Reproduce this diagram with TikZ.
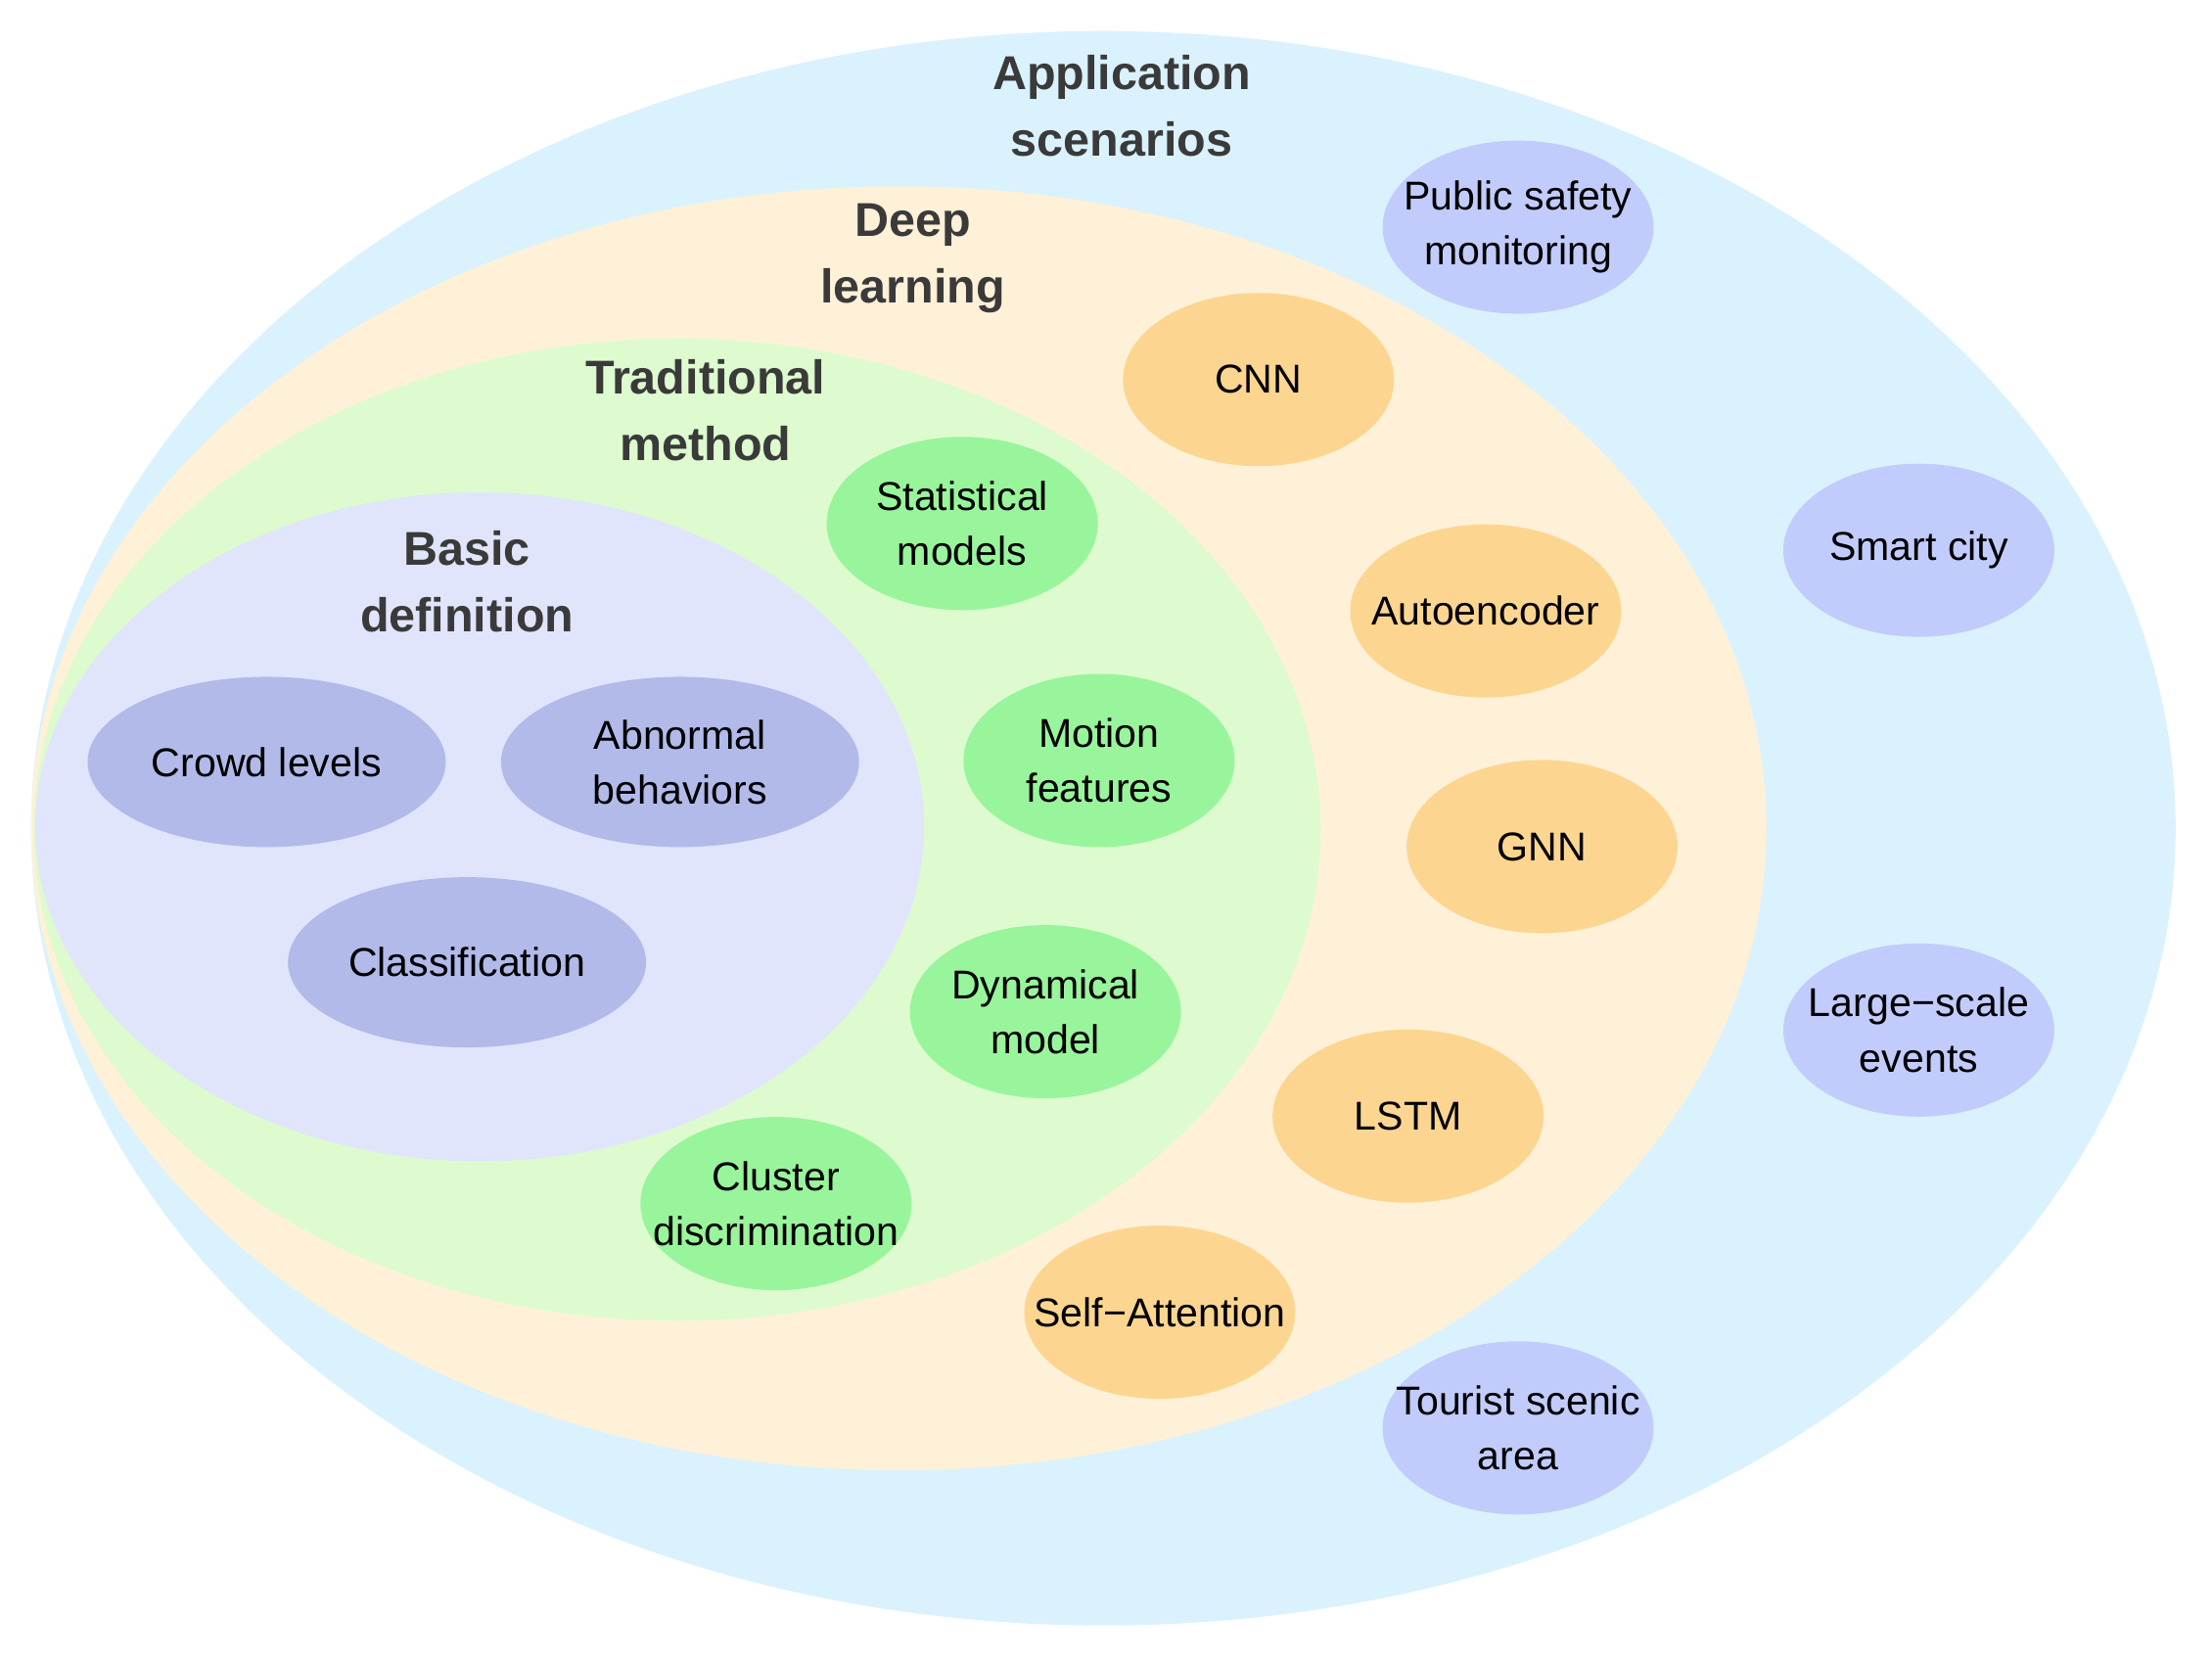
\documentclass[tikz,border=0pt]{standalone}
\usepackage{fontspec}
\setmainfont{Liberation Sans}
\usetikzlibrary{shapes.geometric}
\definecolor{appbg}{HTML}{DAF2FD}
\definecolor{dlbg}{HTML}{FFF1D8}
\definecolor{tmbg}{HTML}{DDFBCE}
\definecolor{bdbg}{HTML}{E0E5FC}
\definecolor{bditem}{HTML}{B2BAEA}
\definecolor{tmitem}{HTML}{98F59B}
\definecolor{dlitem}{HTML}{FCD690}
\definecolor{appitem}{HTML}{C2CCFC}
\definecolor{titlec}{HTML}{3A3A3A}
\tikzset{
  itemtext/.style={align=center, inner sep=0pt, font=\fontsize{11.7}{16}\selectfont, text=black},
  item/.style={ellipse, inner sep=0pt, minimum width=2.77cm, minimum height=1.77cm},
  wideitem/.style={item, minimum width=3.66cm, minimum height=1.74cm, fill=bditem},
  greenitem/.style={item, fill=tmitem},
  orangeitem/.style={item, fill=dlitem},
  blueitem/.style={item, fill=appitem},
  title/.style={align=center, font=\bfseries\fontsize{13.8}{19.3}\selectfont, text=titlec}
}
\newcommand{\itm}[4]{\node[#1, label={[itemtext]center:{#4}}] (#2) at (#3) {};}
\begin{document}
\begin{tikzpicture}[x=0.014415cm, y=-0.014415cm]
\useasboundingbox (0,0) rectangle (1567.8,1178.7);
% nested regions
\fill[appbg] (782,587) ellipse [x radius=760, y radius=565];
\fill[dlbg] (637,587) ellipse [x radius=615, y radius=455];
\fill[tmbg] (480,588) ellipse [x radius=456, y radius=348];
\fill[bdbg] (340,586) ellipse [x radius=315, y radius=237];
% titles
\node[title] (tapp) at (795,75) {Application\\scenarios};
\node[title] (tdl) at (647,183) {Deep\\learning};
\node[title] (ttm) at (500,291) {Traditional\\method};
\node[title] (tbd) at (331,412) {Basic\\definition};
% basic definition
\itm{wideitem}{crowd}{189,540}{Crowd levels}
\itm{wideitem}{abn}{482,540}{Abnormal\\behaviors}
\itm{wideitem}{cls}{331,682}{Classification}
% traditional
\itm{greenitem}{stat}{682,371}{Statistical\\models}
\itm{greenitem}{motion}{779,539}{Motion\\features}
\itm{greenitem}{dyn}{741,717}{Dynamical\\model}
\itm{greenitem}{clu}{550,853}{Cluster\\discrimination}
% deep learning
\itm{orangeitem}{cnn}{892,269}{CNN}
\itm{orangeitem}{ae}{1053,433}{Autoencoder}
\itm{orangeitem}{gnn}{1093,600}{GNN}
\itm{orangeitem}{lstm}{998,791}{LSTM}
\itm{orangeitem}{sa}{822,930}{Self−Attention}
% application
\itm{blueitem}{pub}{1076,161}{Public safety\\monitoring}
\itm{blueitem}{smart}{1360,390}{Smart city}
\itm{blueitem}{large}{1360,730}{Large−scale\\events}
\itm{blueitem}{tour}{1076,1012}{Tourist scenic\\area}
\end{tikzpicture}
\end{document}
